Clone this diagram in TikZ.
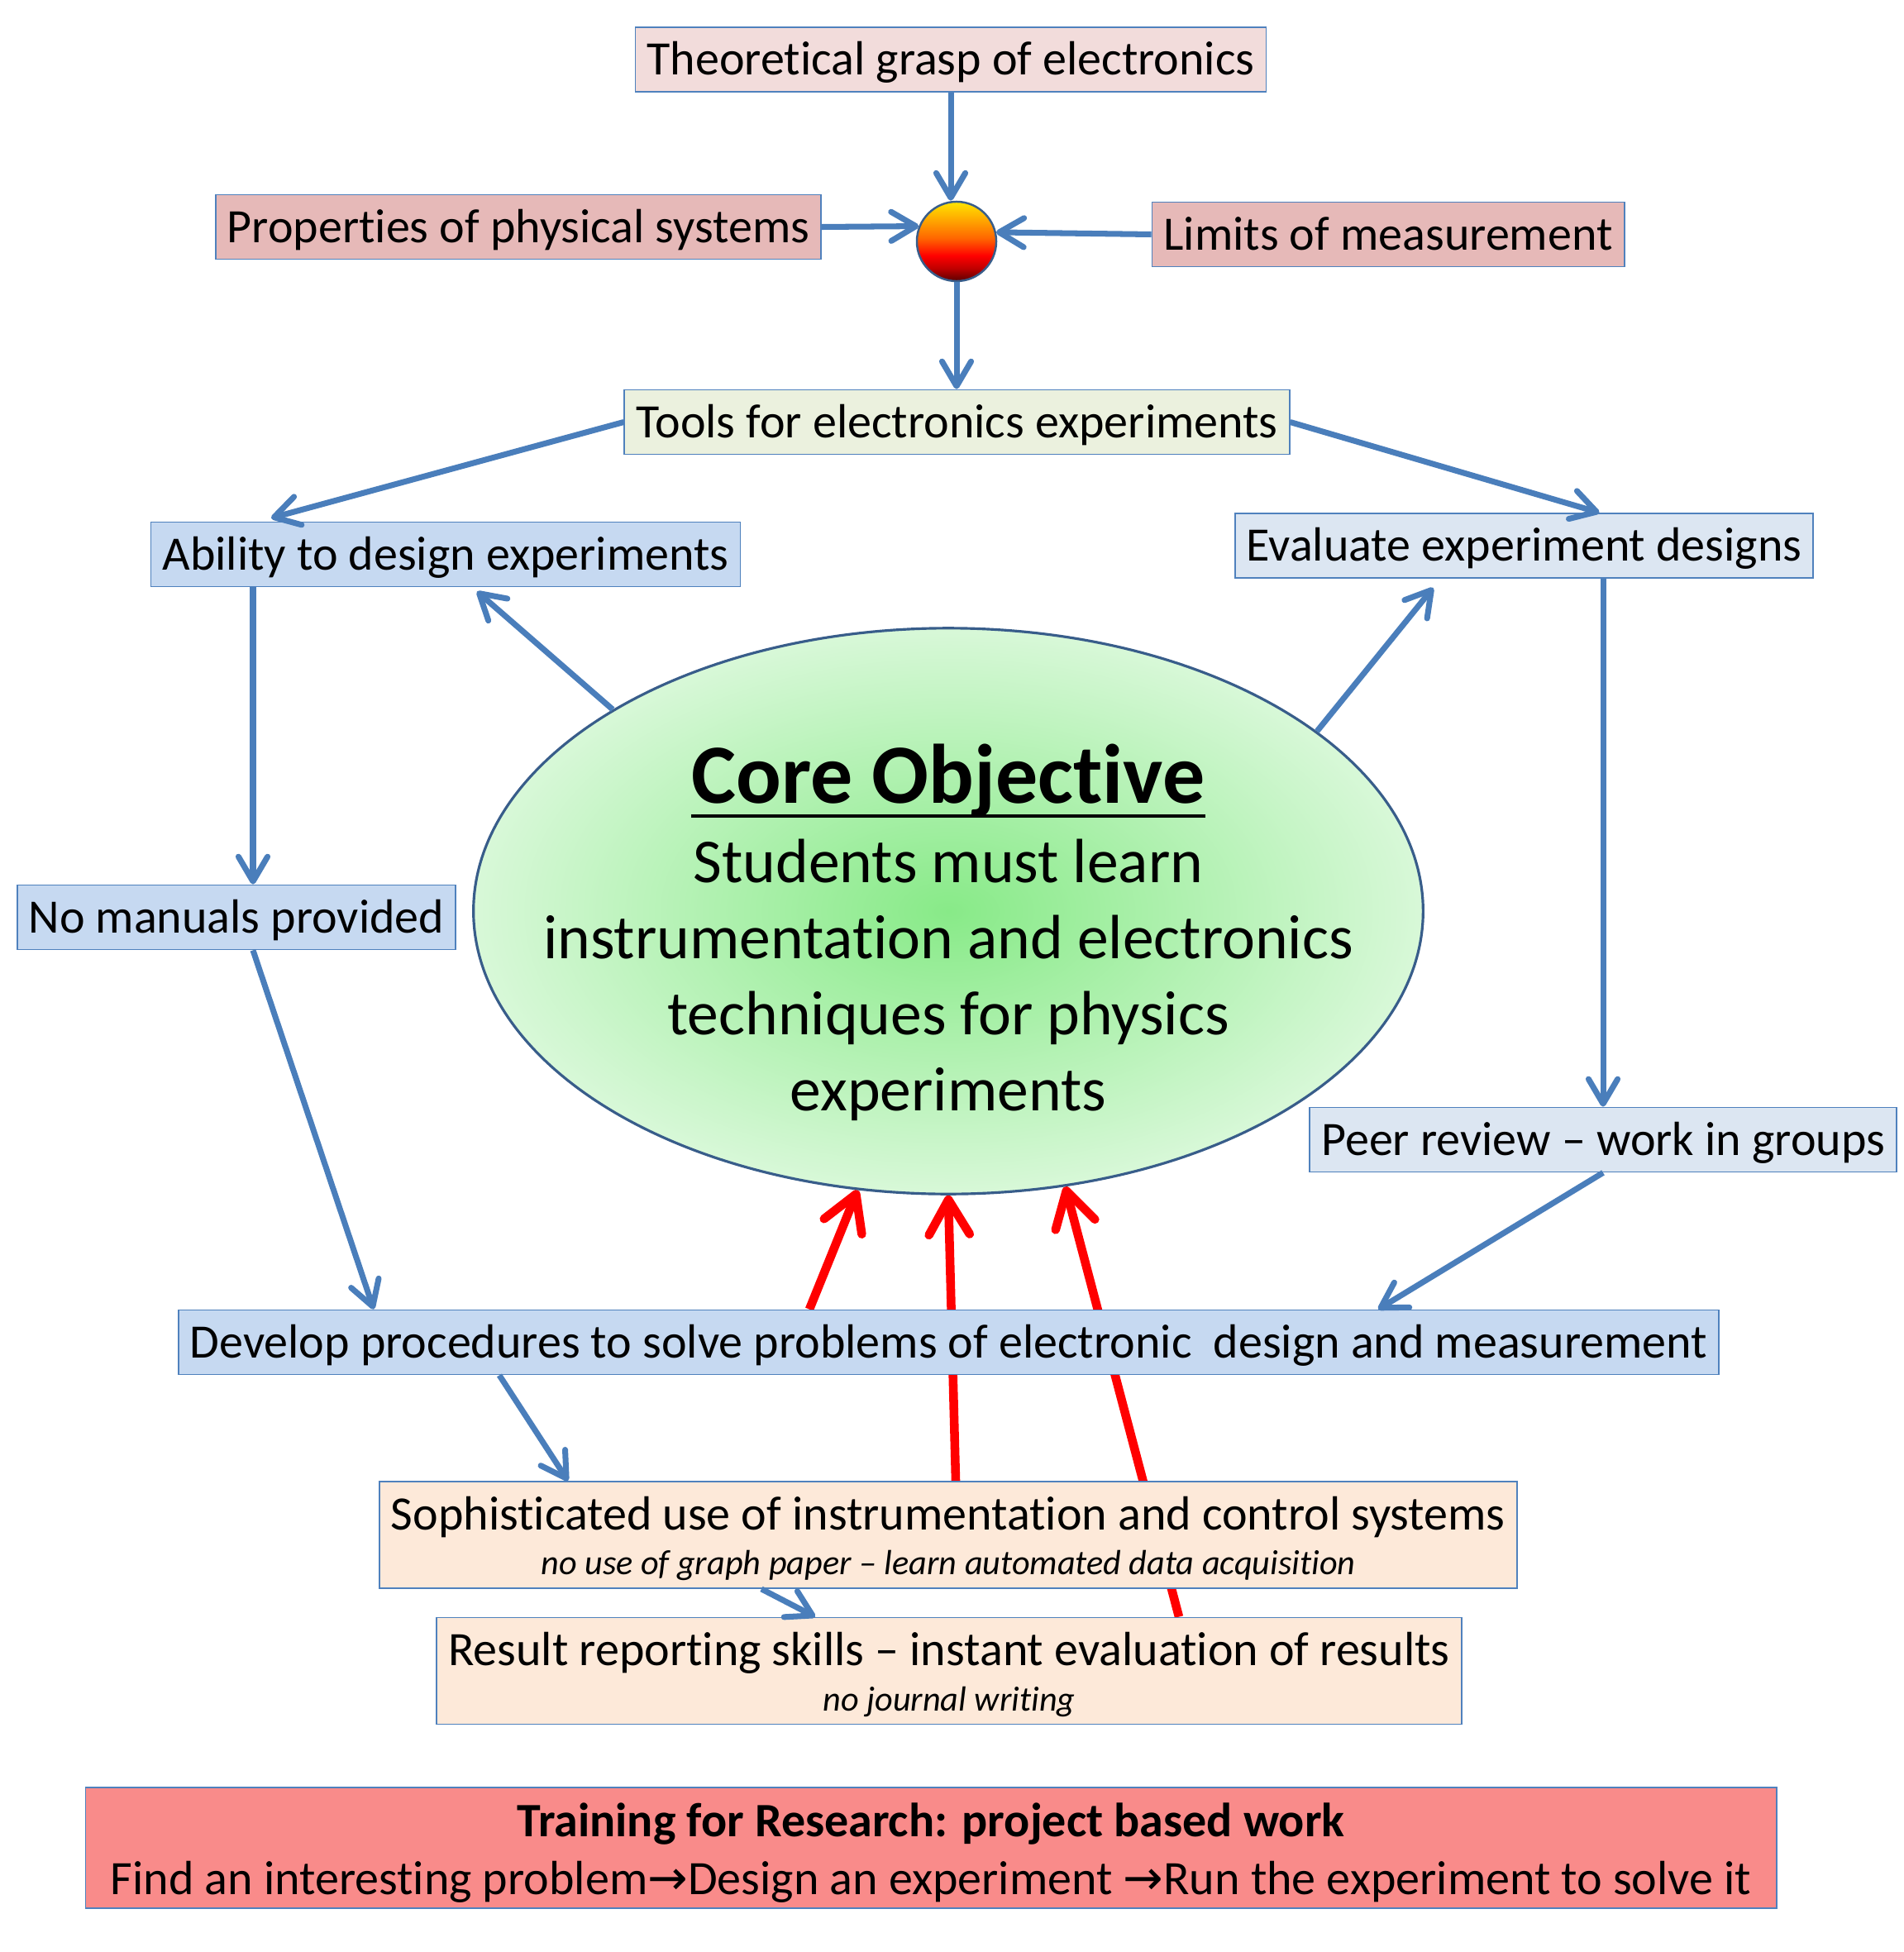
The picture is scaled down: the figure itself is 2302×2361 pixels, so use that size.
\documentclass[tikz,border=0pt]{standalone}
\usepackage{fontspec}
\setmainfont{Carlito}[Ligatures={TeX,CommonOff}]
\newfontfamily\arrowfont{DejaVu Sans}
\usetikzlibrary{arrows.meta,calc,shapes.geometric,backgrounds}
\definecolor{boxline}{HTML}{4F81BD}
\definecolor{arrowblue}{HTML}{4A7EBB}
\definecolor{ringblue}{HTML}{385D8A}
\definecolor{pinklight}{HTML}{F2DCDB}
\definecolor{pinkdark}{HTML}{E6B9B8}
\definecolor{olivelight}{HTML}{EBF1DE}
\definecolor{bluemid}{HTML}{C6D9F1}
\definecolor{bluelight}{HTML}{DCE6F2}
\definecolor{peach}{HTML}{FDE9D9}
\definecolor{salmon}{HTML}{F98B8A}
\definecolor{greencore}{HTML}{88EA88}
\definecolor{greenedge}{HTML}{D8F8D8}
\newcommand\notefont{\fontsize{12}{14.6}\selectfont\itshape}
\newcommand\toprule{\rule{0pt}{14.1pt}}
\pgfdeclareverticalshading{fireball}{100bp}{rgb(0bp)=(0.35,0,0); rgb(25bp)=(0.35,0,0); rgb(33bp)=(0.75,0,0); rgb(41bp)=(1,0,0); rgb(52bp)=(1,0.4,0); rgb(62bp)=(1,0.62,0); rgb(75bp)=(1,0.9,0); rgb(100bp)=(1,0.9,0)}
\begin{document}
\begin{tikzpicture}[x=0.01cm, y=-0.01cm,
    tbox/.style={draw=boxline, line width=0.5pt, inner xsep=0.14cm, inner ysep=0pt, minimum height=0.78cm, text height=14pt, text depth=3.3pt, font=\fontsize{16.5}{19.8}\selectfont},
    twobox/.style={draw=boxline, line width=0.5pt, fill=peach, inner xsep=0.14cm, inner ysep=0pt, minimum height=1.29cm, align=center, font=\fontsize{16.5}{19.8}\selectfont},
    flow/.style={draw=arrowblue, line width=2pt, -{Straight Barb[round, length=8.5pt, width=10pt]}},
    hot/.style={draw=red, line width=3pt, -{Straight Barb[round, length=12pt, width=14pt]}}]
  \useasboundingbox (0,0) rectangle (2302,2361);

  \node[tbox, fill=pinklight] (theo) at (1150,72) {Theoretical grasp of electronics};
  \node[tbox, fill=pinkdark] (props) at (627,274.5) {Properties of physical systems};
  \node[tbox, fill=pinkdark] (limits) at (1679,283.5) {Limits of measurement};
  \node[circle, minimum size=0.96cm, inner sep=0, shading=fireball, draw=ringblue, line width=0.7pt] (ball) at (1157,292) {};
  \node[tbox, fill=olivelight] (tools) at (1157.5,510.5) {Tools for electronics experiments};
  \node[tbox, fill=bluemid] (design) at (539,670.5) {Ability to design experiments};
  \node[tbox, fill=bluelight] (evaldes) at (1843.5,660) {Evaluate experiment designs};
  \node[tbox, fill=bluemid] (noman) at (286,1109.5) {No manuals provided};
  \node[tbox, fill=bluelight] (peer) at (1939,1378.5) {Peer review – work in groups};
  \node[tbox, fill=bluemid] (develop) at (1147.5,1623.5) {Develop procedures to solve problems of electronic\ \ design and measurement};
  \node[twobox] (instr) at (1147,1856.5) {\toprule Sophisticated use of instrumentation and control systems\\[-4.3pt]{\notefont no use of graph paper – learn automated data acquisition}};
  \node[twobox] (report) at (1148,2021) {\toprule Result reporting skills – instant evaluation of results\\[-4.3pt]{\notefont no journal writing}};
  \node[twobox, fill=salmon, minimum height=1.46cm, minimum width=20.44cm] (train) at (1126,2235) {\rule{0pt}{15pt}{\bfseries Training for Research: project based work}\\Find an interesting problem{\arrowfont →}Design an experiment {\arrowfont →}Run the experiment to solve it};

  \node[ellipse, minimum width=11.48cm, minimum height=6.84cm, inner sep=0, draw=ringblue, line width=0.9pt, inner color=greencore, outer color=greenedge] (core) at (1147,1102) {};
  \node[anchor=base, inner sep=0, font=\fontsize{29}{35}\selectfont\bfseries] (coretitle) at (1147,971) {Core Objective};
  \draw[line width=1.3pt] ($(coretitle.base west)+(0,16)$) -- ($(coretitle.base east)+(0,16)$);
  \node[anchor=north, inner sep=0, align=center, font=\fontsize{21.5}{26.2}\selectfont] (corebody) at (1147,1014) {Students must learn\\instrumentation and electronics\\techniques for physics\\experiments};

  \draw[flow] (theo.south) -- (theo.south |- ball.north);
  \draw[flow] (props.east) -- (ball.158);
  \draw[flow] (limits.west) -- (ball.13);
  \draw[flow] (ball.south) -- (ball.south |- tools.north);
  \draw[flow] (tools.west) -- ($(design.north)+(-211,-4)$);
  \draw[flow] (tools.east) -- ($(evaldes.north)+(91,0)$);
  \draw[flow] (core.149) -- ($(design.south)+(38,5)$);
  \draw[flow] (core.26) -- ($(evaldes.south)+(-110,11)$);
  \draw[flow] ($(design.south)+(-233,0)$) -- ($(noman.north)+(20,0)$);
  \draw[flow] (evaldes.south -| peer.north) -- (peer.north);
  \draw[flow] ($(noman.south)+(20,0)$) -- ($(develop.north)+(-695.5,0)$);
  \draw[flow] (peer.south) -- ($(develop.north)+(519.5,0)$);
  \draw[flow] ($(develop.south)+(-543.5,0)$) -- ($(instr.north)+(-460,0)$);
  \draw[flow] ($(instr.south)+(-226,0)$) -- ($(report.north)+(-162,0)$);

  \begin{pgfonlayer}{background}
    \draw[hot] ($(develop.north)+(-168.5,0)$) -- (core.252);
    \draw[hot] ($(instr.north)+(9,0)$) -- (core.south);
    \draw[hot] ($(report.north)+(278,0)$) -- (core.293);
  \end{pgfonlayer}
\end{tikzpicture}
\end{document}
